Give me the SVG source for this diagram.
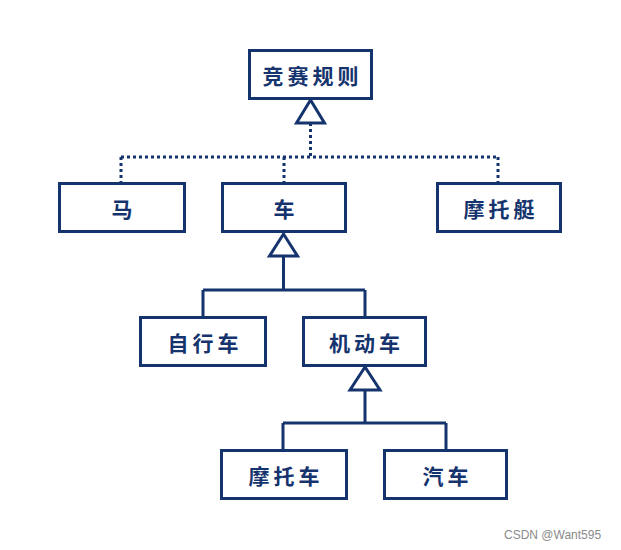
<svg xmlns="http://www.w3.org/2000/svg" width="621" height="550" viewBox="0 0 621 550">
<style>
.box{fill:#fff;stroke:#15336d;stroke-width:3}
.lbl{font-family:"Noto Sans CJK SC","Noto Sans",sans-serif;font-size:21px;font-weight:bold;fill:#15336d;text-anchor:middle;dominant-baseline:central;letter-spacing:4px}
.line{fill:none;stroke:#15336d;stroke-width:3}
.dot{fill:none;stroke:#15336d;stroke-width:3;stroke-dasharray:3 3}
.tri{fill:#fff;stroke:#15336d;stroke-width:3;stroke-linejoin:miter}
.wm{font-family:"Liberation Sans",Arial,sans-serif;font-size:12px;fill:#8a8a8a}
</style>
<rect width="621" height="550" fill="#fff"/>
<g id="connectors">
<path class="dot" d="M310.5 123 V157 M121 157 H498 M121 157 V183 M284 157 V183 M498 157 V183"/>
<polygon class="tri" points="310.5,100 296.5,123 324.5,123"/>
<path class="line" d="M283.5 256 V290 M203 290 H365 M203 290 V317 M365 290 V317"/>
<polygon class="tri" points="283.5,234 269.5,256 297.5,256"/>
<path class="line" d="M365 390 V423 M283 423 H446 M283 423 V450 M446 423 V450"/>
<polygon class="tri" points="365,367 350,390 380,390"/>
</g>
<g id="n-rule"><rect class="box" x="249.5" y="50.5" width="122" height="48"/><text class="lbl" x="312.5" y="75">竞赛规则</text></g>
<g id="n-horse"><rect class="box" x="59.5" y="183.5" width="125" height="48"/><text class="lbl" x="124" y="208">马</text></g>
<g id="n-car"><rect class="box" x="222.5" y="183.5" width="123" height="48"/><text class="lbl" x="286" y="208">车</text></g>
<g id="n-boat"><rect class="box" x="437.5" y="183.5" width="123" height="48"/><text class="lbl" x="501" y="208">摩托艇</text></g>
<g id="n-bike"><rect class="box" x="140.5" y="317.5" width="125" height="48"/><text class="lbl" x="205" y="342">自行车</text></g>
<g id="n-motor"><rect class="box" x="303.5" y="317.5" width="122" height="48"/><text class="lbl" x="366.5" y="342">机动车</text></g>
<g id="n-moto"><rect class="box" x="221.5" y="450.5" width="125" height="48"/><text class="lbl" x="286" y="475">摩托车</text></g>
<g id="n-auto"><rect class="box" x="384.5" y="450.5" width="122" height="48"/><text class="lbl" x="447.5" y="475">汽车</text></g>
<text class="wm" x="504" y="539">CSDN @Want595</text>
</svg>
